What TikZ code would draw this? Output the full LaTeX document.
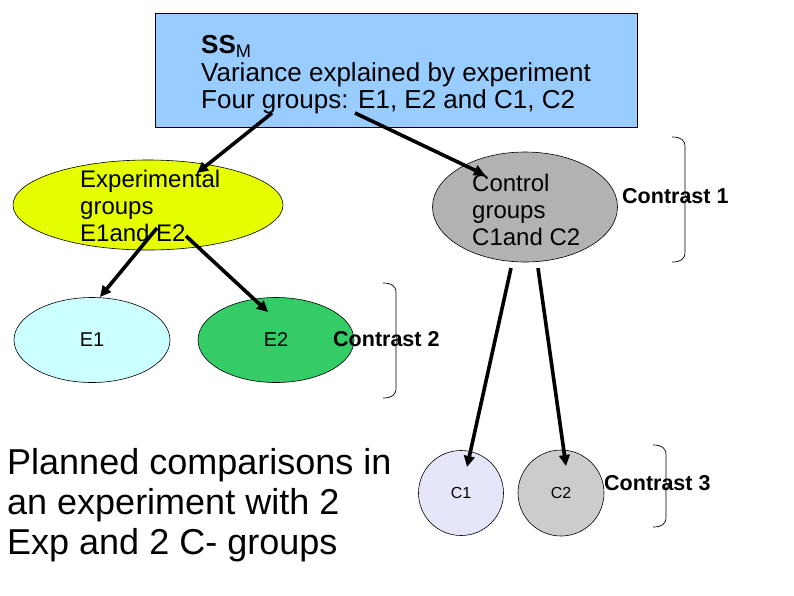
\documentclass[tikz,border=0pt]{standalone}
\usepackage{fontspec}
\setmainfont{Liberation Sans}
\usetikzlibrary{shapes.geometric,arrows.meta}

\definecolor{boxblue}{RGB}{153,204,255}
\definecolor{expyellow}{RGB}{230,255,0}
\definecolor{ctlgray}{RGB}{178,178,178}
\definecolor{eonecyan}{RGB}{204,255,255}
\definecolor{etwogreen}{RGB}{51,204,102}
\definecolor{conelav}{RGB}{230,230,250}
\definecolor{ctwogray}{RGB}{204,204,204}

\tikzset{
 grp/.style={ellipse, draw, line width=0.6pt, inner sep=0pt},
 grptext/.style={align=left, inner sep=0pt, anchor=west, font=\fontsize{24}{27}\selectfont},
 link/.style={line width=3.6pt, -{Triangle[length=11pt,width=10.5pt]}},
 contrast/.style={inner sep=0pt, anchor=west, font=\bfseries\fontsize{21.5}{24}\selectfont},
 bracestyle/.style={line width=0.7pt}
}

% x = left end, top, middle tip, bottom
\newcommand{\cbrace}[4]{%
 \draw[bracestyle] (#1,#2) .. controls ({#1+9},#2) and ({#1+13},{#2+3}) .. ({#1+13},{#2+10})
 -- ({#1+13},{#3-6}) .. controls ({#1+13},{#3-2}) .. ({#1+16},#3)
 .. controls ({#1+13},{#3+2}) .. ({#1+13},{#3+6})
 -- ({#1+13},{#4-10}) .. controls ({#1+13},{#4-3}) and ({#1+9},#4) .. (#1,#4);}

\begin{document}
\begin{tikzpicture}[x=1pt,y=-1pt]
 \useasboundingbox (0,0) rectangle (794,595);
 \node[draw, fill=boxblue, line width=0.6pt, minimum width=482, minimum height=114] (ssm) at (396,70) {};
 \node[align=left, inner sep=0pt, anchor=west, font=\fontsize{26}{27.5}\selectfont] (ssmtext) at (201,75)
 {\textbf{SS}\textsubscript{M}\\Variance explained by experiment\\Four groups: E1, E2 and C1, C2};
 \node[grp, fill=expyellow, minimum width=270, minimum height=90] (exp) at (148,205) {};
 \node[grptext] (exptext) at (80,206) {Experimental\\groups\\E1and E2};
 \node[grp, fill=ctlgray, minimum width=185, minimum height=110] (ctl) at (525,207) {};
 \node[grptext] (ctltext) at (472,210) {Control\\groups\\C1and C2};
 \node[grp, fill=eonecyan, minimum width=156, minimum height=85, font=\fontsize{20}{22}\selectfont] (e1) at (92,340) {E1};
 \node[grp, fill=etwogreen, minimum width=156, minimum height=85, font=\fontsize{20}{22}\selectfont] (e2) at (276,340) {E2};
 \node[circle, draw, line width=0.6pt, fill=conelav, minimum size=85, font=\fontsize{16}{18}\selectfont] (c1) at (461,493) {C1};
 \node[circle, draw, line width=0.6pt, fill=ctwogray, minimum size=86, font=\fontsize{16}{18}\selectfont] (c2) at (561,493) {C2};
 \node[align=left, inner sep=0pt, anchor=west, font=\fontsize{36}{40}\selectfont] (title) at (7,505)
 {Planned comparisons in\\an experiment with 2\\Exp and 2 C- groups};

 \cbrace{672}{137}{198}{262}
 \cbrace{383}{283}{340}{398}
 \cbrace{653}{445}{486}{527}
 \node[contrast] (con1) at (622,196) {Contrast 1};
 \node[contrast] (con2) at (333,339) {Contrast 2};
 \node[contrast] (con3) at (604,483) {Contrast 3};

 \coordinate (ssmL) at (272,113);
 \coordinate (ssmR) at (355,113);
 \coordinate (expIn) at (197,173);
 \coordinate (ctlIn) at (485,175);
 \coordinate (expL) at (157,228);
 \coordinate (expR) at (186,236);
 \coordinate (eoneIn) at (100,297);
 \coordinate (etwoIn) at (268,312);
 \coordinate (ctlL) at (511,268);
 \coordinate (ctlR) at (538,268);
 \coordinate (coneIn) at (467,467);
 \coordinate (ctwoIn) at (566,466);
 \draw[link] (ssmL) -- (expIn);
 \draw[link] (ssmR) -- (ctlIn);
 \draw[link] (expL) -- (eoneIn);
 \draw[link] (expR) -- (etwoIn);
 \draw[link] (ctlL) -- (coneIn);
 \draw[link] (ctlR) -- (ctwoIn);
\end{tikzpicture}
\end{document}
